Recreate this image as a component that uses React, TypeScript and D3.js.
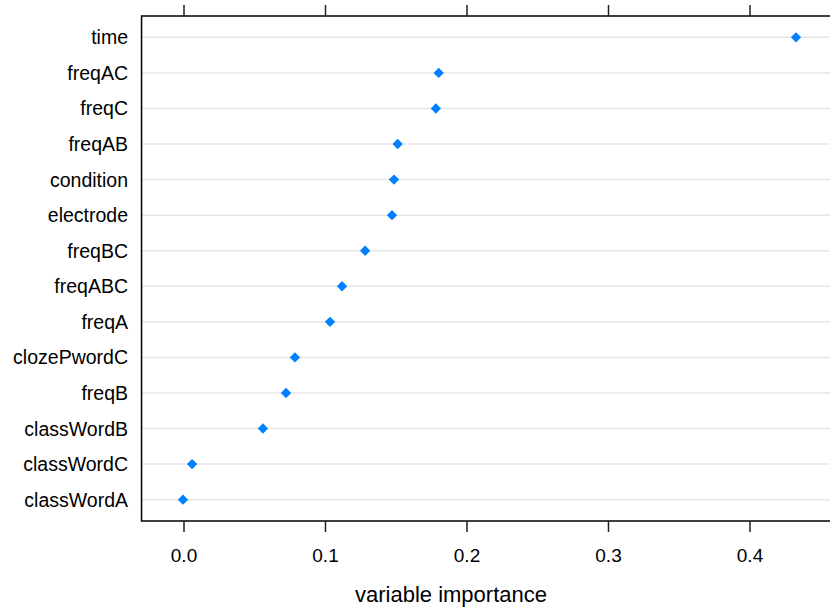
import React, { useEffect, useRef } from 'react';
import * as d3 from 'd3';

// variables, top to bottom
const variables: string[] = [
  'time', 'freqAC', 'freqC', 'freqAB', 'condition', 'electrode', 'freqBC',
  'freqABC', 'freqA', 'clozePwordC', 'freqB', 'classWordB', 'classWordC', 'classWordA',
];
const importance: number[] = [
  0.4325, 0.180, 0.178, 0.151, 0.1484, 0.147, 0.128,
  0.1117, 0.1032, 0.0784, 0.0721, 0.0558, 0.0057, -0.0007,
];
const xTicks: number[] = [0.0, 0.1, 0.2, 0.3, 0.4];
const xTitle = 'variable importance';

const W = 830;
const H = 607;

const VarImpDotPlot = () => {
  const svgRef = useRef<SVGSVGElement | null>(null);

  useEffect(() => {
    if (!svgRef.current) return;
    const svg = d3.select(svgRef.current);
    svg.selectAll('*').remove();

    const panel = { top: 16, bottom: 521 };
    const font = '"Liberation Sans", Arial, sans-serif';

    // x scale: 0.0 -> 184px, 0.4 -> 750px
    const x = d3.scaleLinear().domain([0, 0.4]).range([184, 750]);
    const xMin = -0.03;
    const xMax = 0.48;

    // rows numbered from the bottom like lattice
    const n = variables.length;
    const y = d3.scaleLinear().domain([0.4, n + 0.6]).range([panel.bottom, panel.top]);
    const rowY = (i: number) => y(n - i);

    // grid lines
    svg.append('g')
      .selectAll('line')
      .data(variables)
      .join('line')
      .attr('x1', x(xMin))
      .attr('x2', x(xMax))
      .attr('y1', (d, i) => rowY(i))
      .attr('y2', (d, i) => rowY(i))
      .attr('stroke', '#e6e6e6')
      .attr('stroke-width', 1.5);

    // panel border
    svg.append('rect')
      .attr('x', x(xMin))
      .attr('y', panel.top)
      .attr('width', x(xMax) - x(xMin))
      .attr('height', panel.bottom - panel.top)
      .attr('fill', 'none')
      .attr('stroke', '#000')
      .attr('stroke-width', 1.5);

    // ticks top and bottom
    const ticks = svg.append('g');
    ticks.selectAll('line.top')
      .data(xTicks)
      .join('line')
      .attr('class', 'top')
      .attr('x1', d => x(d)).attr('x2', d => x(d))
      .attr('y1', panel.top).attr('y2', panel.top - 11)
      .attr('stroke', '#222').attr('stroke-width', 1.5);
    ticks.selectAll('line.bottom')
      .data(xTicks)
      .join('line')
      .attr('class', 'bottom')
      .attr('x1', d => x(d)).attr('x2', d => x(d))
      .attr('y1', panel.bottom).attr('y2', panel.bottom + 11)
      .attr('stroke', '#222').attr('stroke-width', 1.5);

    // tick labels
    svg.append('g')
      .selectAll('text')
      .data(xTicks)
      .join('text')
      .attr('x', d => x(d))
      .attr('y', 562)
      .attr('text-anchor', 'middle')
      .style('font-family', font)
      .style('font-size', '19px')
      .style('fill', '#000')
      .text(d => d3.format('.1f')(d));

    // row labels
    svg.append('g')
      .selectAll('text')
      .data(variables)
      .join('text')
      .attr('x', 128)
      .attr('y', (d, i) => rowY(i) + 7)
      .attr('text-anchor', 'end')
      .style('font-family', font)
      .style('font-size', '19.5px')
      .style('fill', '#000')
      .text(d => d);

    // points (diamonds)
    const diamond = d3.symbol().type(d3.symbolDiamond2).size(68);
    svg.append('g')
      .selectAll('path')
      .data(importance)
      .join('path')
      .attr('d', diamond)
      .attr('transform', (d, i) => `translate(${x(d)},${rowY(i)})`)
      .attr('fill', '#0080ff');

    // axis title
    svg.append('text')
      .attr('x', 451)
      .attr('y', 602)
      .attr('text-anchor', 'middle')
      .style('font-family', font)
      .style('font-size', '22px')
      .style('fill', '#000')
      .text(xTitle);
  }, []);

  return (
    <svg
      ref={svgRef}
      width={W}
      height={H}
      style={{ position: 'absolute', left: 0, top: 0, background: '#fff' }}
    />
  );
};

export default function App() {
  return <VarImpDotPlot />;
}
